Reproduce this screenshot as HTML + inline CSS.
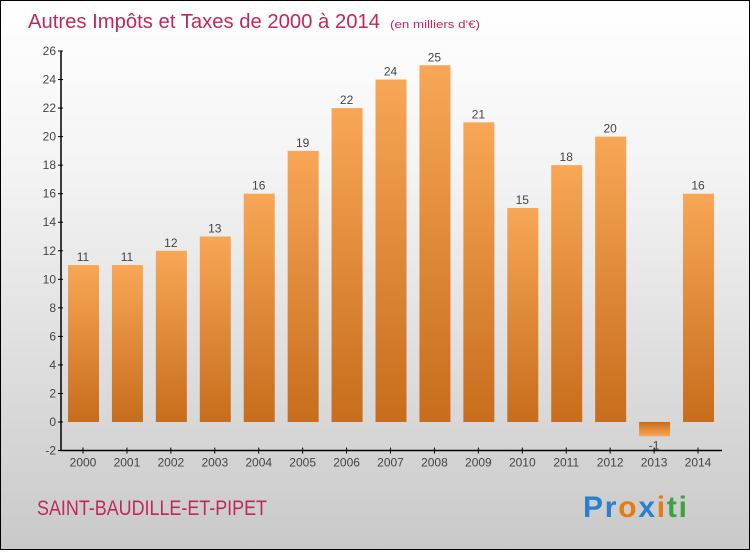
<!DOCTYPE html>
<html><head><meta charset="utf-8"><style>
body{margin:0;width:750px;height:550px;overflow:hidden;font-family:"Liberation Sans",sans-serif}
#c{position:absolute;left:0;top:0;width:748px;height:548px;border:1px solid #000;background:linear-gradient(#fff 0%,#f4f4f4 30%,#c9c9c9 100%)}
</style></head><body>
<div id="c">
<svg width="748" height="548" id="svg">
<defs>
<linearGradient id="gp" x1="0" y1="0" x2="0" y2="1"><stop offset="0" stop-color="#f8a756"/><stop offset="1" stop-color="#c76d1c"/></linearGradient>
<linearGradient id="gn" x1="0" y1="0" x2="0" y2="1"><stop offset="0" stop-color="#c76d1c"/><stop offset="1" stop-color="#f8a756"/></linearGradient>
</defs>
<text x="27" y="27" font-size="20" fill="#c0285a" textLength="352" lengthAdjust="spacingAndGlyphs">Autres Impôts et Taxes de 2000 à 2014</text>
<text x="389" y="27" font-size="11" fill="#c0285a" textLength="90" lengthAdjust="spacingAndGlyphs">(en milliers d'€)</text>
<g id="plot"></g>
<text x="36" y="514" font-size="21" fill="#c0285a" textLength="230" lengthAdjust="spacingAndGlyphs">SAINT-BAUDILLE-ET-PIPET</text>
<text x="582" y="516" font-size="30" font-weight="bold" textLength="104" lengthAdjust="spacing"><tspan fill="#2a7fd0">Pr</tspan><tspan fill="#e87a10">o</tspan><tspan fill="#2a7fd0">x</tspan><tspan fill="#e87a10">i</tspan><tspan fill="#40a040">ti</tspan></text>
</svg></div>
<script>
const years=["2000","2001","2002","2003","2004","2005","2006","2007","2008","2009","2010","2011","2012","2013","2014"];
const values=[11,11,12,13,16,19,22,24,25,21,15,18,20,-1,16];
const yTicks=[-2,0,2,4,6,8,10,12,14,16,18,20,22,24,26];
const NS="http://www.w3.org/2000/svg";
const g=document.getElementById('plot');
const y0=421,unit=(421-50)/26;
function ys(v){return y0-v*unit;}
function xs(i){return 82+i*43.93;}
function mk(t,a,txt){const e=document.createElementNS(NS,t);for(const k in a)e.setAttribute(k,a[k]);if(txt!==undefined)e.textContent=txt;g.appendChild(e);return e;}
let ax=mk('line',{x1:60,y1:ys(26),x2:60,y2:ys(-2),stroke:'#000','stroke-width':1.5});


let bx=mk('line',{x1:60,y1:ys(-2),x2:721,y2:ys(-2),stroke:'#000','stroke-width':1.5});


yTicks.forEach(v=>{
 mk('line',{x1:57,x2:62,y1:ys(v),y2:ys(v),stroke:'#000'});
 let t=mk('text',{x:55,y:ys(v)+4,'font-size':12,fill:'#444','text-anchor':'end'},v);
 
 
});
years.forEach((yr,i)=>{
 const v=values[i],x=xs(i);
 const top=v>=0?ys(v):ys(0),h=Math.abs(ys(v)-ys(0));
 let r=mk('rect',{x:x-15,y:top,width:31,height:h,fill:v>=0?'url(#gp)':'url(#gn)'});
 
 
 let l=mk('text',{x:x,y:v>=0?ys(v)-4:ys(v)+13,'font-size':12,fill:'#444','text-anchor':'middle'},v);
 
 
 mk('line',{x1:x,x2:x,y1:ys(-2)-3,y2:ys(-2)+3,stroke:'#000'});
 let t=mk('text',{x:x,y:ys(-2)+16,'font-size':12,fill:'#444','text-anchor':'middle'},yr);
 
 
});
</script>
</body></html>
